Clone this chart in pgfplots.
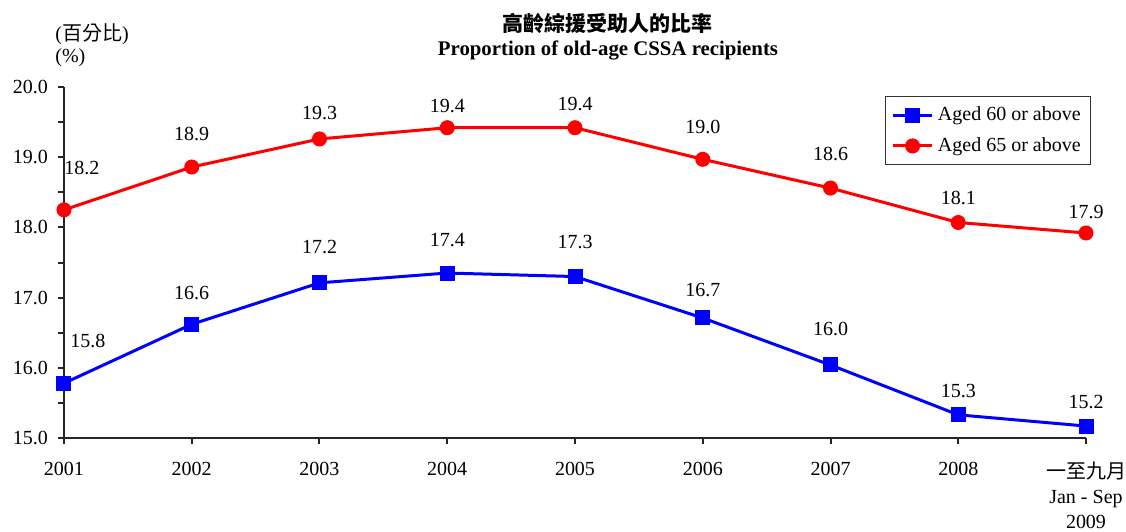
\documentclass[border=0pt]{standalone}
\usepackage{fontspec}
\setmainfont{Liberation Serif}
\newfontfamily\cjk{Noto Sans CJK TC}
\usepackage{pgfplots}
\usepackage{pgfplotstable}
\pgfplotsset{compat=1.18}
\definecolor{bl}{RGB}{0,0,255}
\definecolor{rd}{RGB}{255,0,0}
\pgfplotstableread{
x y lab dx dy
0 15.78 15.8 12 21
1 16.62 16.6 0 15.5
2 17.21 17.2 0 18
3 17.35 17.4 0 16.5
4 17.30 17.3 0 17.5
5 16.71 16.7 0 14
6 16.04 16.0 0 18
7 15.33 15.3 0 12
8 15.17 15.2 0 12
}\blueT
\pgfplotstableread{
x y lab dx dy
0 18.25 18.2 9 21
1 18.86 18.9 0 16.5
2 19.26 19.3 0 13
3 19.42 19.4 0 11
4 19.42 19.4 0 12
5 18.97 19.0 0 16
6 18.56 18.6 0 17
7 18.07 18.1 0 12
8 17.92 17.9 0 10.5
}\redT
\begin{document}
\begin{tikzpicture}
\useasboundingbox (-32pt,-46.5pt) rectangle (531pt,219pt);
\begin{axis}[
  at={(0,0)}, anchor=south west,
  scale only axis, width=511pt, height=175.5pt,
  xmin=0, xmax=8, ymin=15, ymax=20,
  clip=false,
  axis lines=left,
  axis line style={-, line width=1pt, black!85},
  tick style={line width=1pt, black!85},
  tick align=outside,
  major tick length=3pt, minor tick length=3pt,
  xtick={0,...,8},
  xticklabels={2001,2002,2003,2004,2005,2006,2007,2008,{{\cjk 一至九月}\\Jan - Sep\\2009}},
  xticklabel style={align=center, font=\fontsize{10}{12.5}\selectfont, yshift=-5.5pt},
  ytick={15,16,...,20},
  minor y tick num=1,
  yticklabel style={font=\fontsize{10}{12}\selectfont, xshift=-1.5pt},
  /pgf/number format/assume math mode=true,
  y tick label style={/pgf/number format/.cd, fixed, fixed zerofill, precision=1},
  point meta=explicit symbolic,
  visualization depends on={\thisrow{dx} \as \dx},
  visualization depends on={\thisrow{dy} \as \dy},
  nodes near coords,
  every node near coord/.append style={anchor=center, xshift=\dx pt, yshift=\dy pt, font=\fontsize{10}{12}\selectfont, text=black},
  legend style={at={(0.803,0.974)}, anchor=north west, draw=black!80, line width=0.5pt,
    font=\fontsize{10}{11}\selectfont, row sep=3pt, inner sep=3pt},
  legend cell align=left,
  legend image code/.code={\draw[mark repeat=2,mark phase=2] plot coordinates {(0cm,0cm)(0.35cm,0cm)(0.7cm,0cm)};},
]
\addplot[color=bl, line width=1.5pt, mark=square*, mark size=3pt, mark options={solid}] table[x=x, y=y, meta=lab] {\blueT};
\addlegendentry{Aged 60 or above}
\addplot[color=rd, line width=1.5pt, mark=*, mark size=3pt, mark options={solid}] table[x=x, y=y, meta=lab] {\redT};
\addlegendentry{Aged 65 or above}
\end{axis}
\node[anchor=center, font=\fontsize{10.5}{12}\selectfont\cjk\bfseries] at (271.5pt,207pt) {高齡綜援受助人的比率};
\node[anchor=center, font=\fontsize{10.4}{12}\selectfont\bfseries] at (272pt,194pt) {Proportion of old-age CSSA recipients};
\node[anchor=west, font=\fontsize{10}{12}\selectfont, inner sep=0pt] at (-4.5pt,202pt) {({\cjk 百分比})};
\node[anchor=west, font=\fontsize{10}{12}\selectfont, inner sep=0pt] at (-4.5pt,190pt) {(\%)};
\end{tikzpicture}
\end{document}
